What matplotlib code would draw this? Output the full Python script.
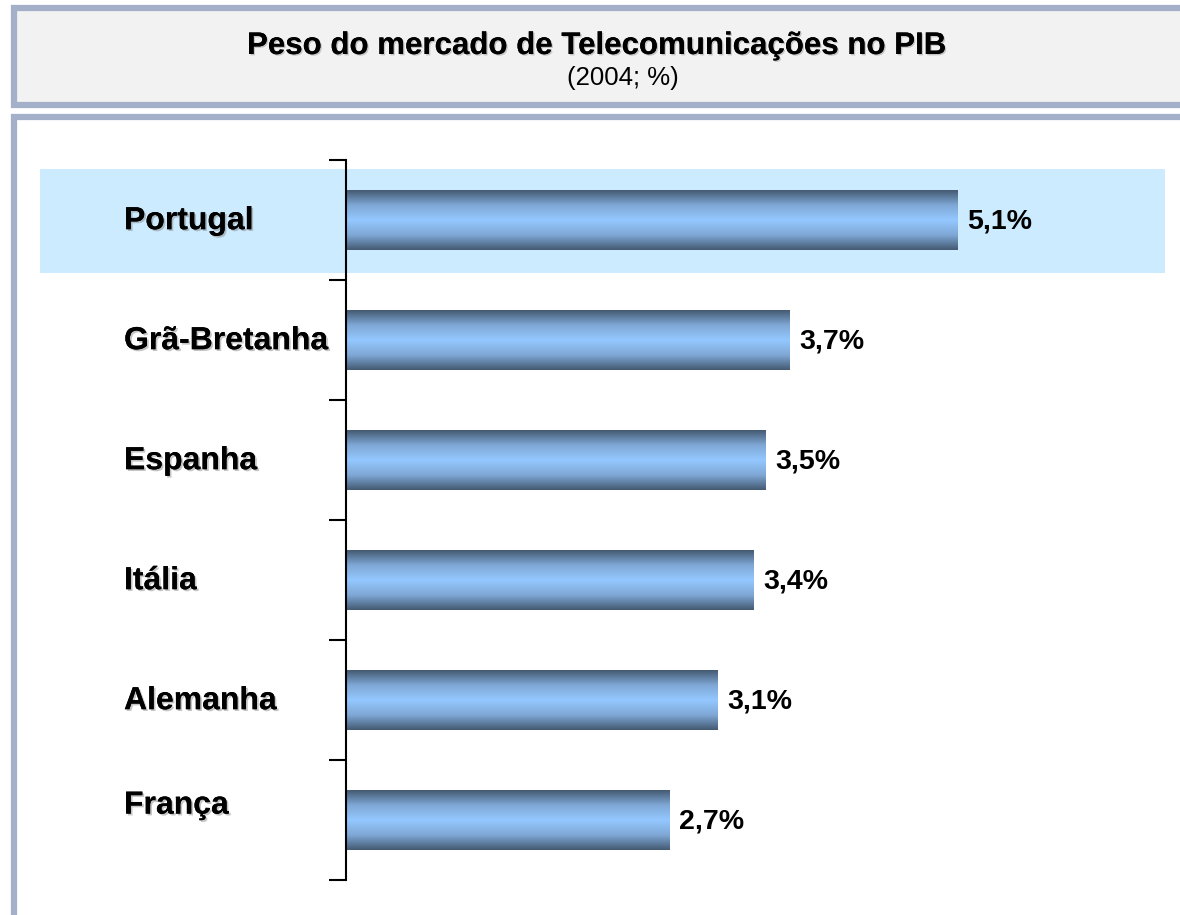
import numpy as np
import matplotlib
matplotlib.use('Agg')
import matplotlib.pyplot as plt
from matplotlib.patches import Rectangle
from matplotlib.colors import LinearSegmentedColormap
import matplotlib.patheffects as pe

plt.rcParams['font.family'] = ['Liberation Sans', 'DejaVu Sans']

# dados
paises = ['Portugal', 'Grã-Bretanha', 'Espanha', 'Itália', 'Alemanha', 'França']
valores = [5.1, 3.7, 3.5, 3.4, 3.1, 2.7]
rotulos = ['5,1%', '3,7%', '3,5%', '3,4%', '3,1%', '2,7%']

titulo = 'Peso do mercado de Telecomunicações no PIB'
subtitulo = '(2004; %)'

W, H = 1180, 915
fig = plt.figure(figsize=(W / 100, H / 100), dpi=100)
fig.patch.set_facecolor('white')


def fx(x):
    return x / W


def fy(y):
    return 1 - y / H


borda = '#A4AFCA'

# caixa do título
fig.patches.append(Rectangle((fx(14), fy(105)), fx(1200 - 14), fy(8) - fy(105),
                             transform=fig.transFigure, facecolor='#F2F2F2',
                             edgecolor=borda, linewidth=4.5, zorder=-2))
# caixa do gráfico
fig.patches.append(Rectangle((fx(14), fy(1000)), fx(1200 - 14), fy(117) - fy(1000),
                             transform=fig.transFigure, facecolor='white',
                             edgecolor=borda, linewidth=4.5, zorder=-2))

fig.text(fx(597), fy(46), titulo, ha='center', va='center', fontsize=22.5,
         fontweight='bold',
         path_effects=[pe.withSimplePatchShadow(offset=(1, -1), shadow_rgbFace='gray', alpha=0.4), pe.Normal()])
fig.text(fx(623), fy(78), subtitulo, ha='center', va='center', fontsize=18.5)

# eixo: 120 px por unidade
x0, x1 = 346, 1165
y0, y1 = 160, 880
ax = fig.add_axes([fx(x0), fy(y1), fx(x1 - x0), fy(y0) - fy(y1)])
ax.set_facecolor('none')

# faixa de destaque de Portugal
ax.add_patch(Rectangle(((40 - x0) / 120, -0.5 + (169 - y0) / 120),
                       (1165 - 40) / 120, (273 - 169) / 120,
                       facecolor='#CCEBFF', edgecolor='none', clip_on=False, zorder=0))

cmap = LinearSegmentedColormap.from_list('barra', ['#455B74', '#7FA8D6', '#94C8FF', '#7FA8D6', '#455B74'])
grad = np.linspace(0, 1, 100).reshape(-1, 1)
alt = 0.25
for i, (v, r, p) in enumerate(zip(valores, rotulos, paises)):
    ax.imshow(grad, cmap=cmap, aspect='auto', extent=[0, v, i + alt, i - alt],
              interpolation='bicubic', zorder=2)
    ax.text(v + 0.075, i + 0.01, r, ha='left', va='center', fontsize=20.5, fontweight='bold', zorder=3)
    dy = -0.12 if p == 'França' else 0.01
    ax.text((124 - x0) / 120, i + dy, p, ha='left', va='center', fontsize=23,
            fontweight='bold', clip_on=False, zorder=3,
            path_effects=[pe.withSimplePatchShadow(offset=(1.3, -1.3), shadow_rgbFace='gray', alpha=0.45), pe.Normal()])

ax.set_xlim(0, (x1 - x0) / 120)
ax.set_ylim(len(paises) - 0.5, -0.5)

for s in ['top', 'right', 'bottom']:
    ax.spines[s].set_visible(False)
ax.spines['left'].set_linewidth(1.5)
ax.set_xticks([])
ax.set_yticks(np.arange(-0.5, len(paises)))
ax.set_yticklabels([])
ax.tick_params(axis='y', length=12, width=1.5, direction='out')

fig.savefig('out.png', dpi=100)
